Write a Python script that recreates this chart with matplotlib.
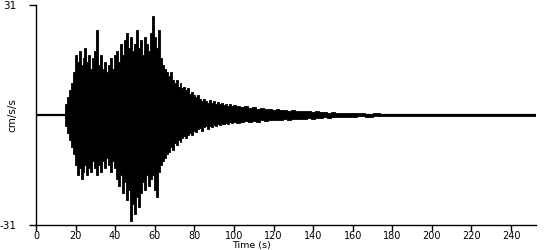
import numpy as np
import matplotlib.pyplot as plt

# envelope of the accelerogram (cm/s/s), peak up / peak down per time step
t_pre = [0, 14]
up_pre = [0, 0]
lo_pre = [0, 0]

# 1 s steps, 15 .. 100 s
t_main = list(range(15, 101))
up_main = [3, 5, 7, 9, 12, 17, 15, 18, 14, 16, 19, 15, 17, 13, 16, 18, 24, 14, 17, 13,
           15, 12, 14, 16, 13, 17, 18, 15, 20, 17, 21, 23, 19, 22, 18, 20, 24, 19, 21, 17,
           22, 20, 18, 23, 28, 22, 19, 24, 16, 14, 13, 12, 11, 12, 10, 9, 10, 8, 9, 7.5,
           8, 7, 7.5, 6, 6.5, 5.5, 5, 5.5, 4.5, 4, 4.5, 4, 3.5, 4.2, 3.5, 4, 3.2, 3.6,
           3, 3.3, 2.8, 3, 2.6, 3.2, 2.5, 2.8]
lo_main = [-3, -5, -7, -9, -11, -14, -17, -15, -18, -16, -14, -17, -15, -16, -13, -15, -17, -14, -16, -13,
           -15, -12, -14, -16, -13, -15, -18, -20, -17, -22, -19, -24, -21, -30, -25, -28, -23, -26, -22, -19,
           -21, -17, -20, -18, -17, -21, -23, -16, -14, -13, -12, -11, -10.5, -9, -10, -8, -8.5, -7, -7.5, -6.5,
           -6, -6.5, -5.5, -5, -5.5, -4.5, -4.8, -4, -3.8, -4.5, -3.5, -3.2, -4, -3, -3.3, -2.8, -3, -2.6,
           -2.8, -2.4, -2.6, -2.2, -2.5, -2.1, -2.3, -2]

# 2 s steps, 102 .. 160 s
t_coda = list(range(102, 161, 2))
up_coda = [2.4, 2.2, 2.6, 2.0, 2.2, 1.8, 2.0, 1.6, 1.8, 1.5, 1.7, 1.4, 1.5, 1.2, 1.4,
           1.1, 1.2, 1.0, 1.1, 0.9, 1.0, 0.8, 0.9, 0.7, 0.8, 0.6, 0.7, 0.6, 0.5, 0.6]
lo_coda = [-2.2, -2.0, -1.8, -2.1, -1.7, -1.9, -1.5, -1.7, -1.4, -1.5, -1.3, -1.4, -1.2, -1.3, -1.1,
           -1.2, -1.0, -1.1, -0.9, -1.0, -0.8, -0.9, -0.7, -0.8, -0.6, -0.7, -0.6, -0.5, -0.6, -0.5]

# 4 s steps, 164 .. 252 s
t_tail = list(range(164, 253, 4))
up_tail = [0.45, 0.35, 0.45, 0.3, 0.35, 0.4, 0.25, 0.3, 0.25, 0.3, 0.2, 0.25,
           0.2, 0.25, 0.2, 0.2, 0.15, 0.2, 0.15, 0.2, 0.15, 0.15, 0.15]
lo_tail = [-0.4, -0.45, -0.35, -0.4, -0.3, -0.35, -0.3, -0.25, -0.3, -0.2, -0.25, -0.2,
           -0.2, -0.2, -0.15, -0.2, -0.15, -0.15, -0.2, -0.15, -0.15, -0.15, -0.15]

t = np.array(t_pre + t_main + t_coda + t_tail, dtype=float)
up = np.array(up_pre + up_main + up_coda + up_tail)
lo = np.array(lo_pre + lo_main + lo_coda + lo_tail)

plt.rcParams['font.family'] = ['DejaVu Sans']
fig = plt.figure(figsize=(5.5, 2.5), dpi=100)
ax = fig.add_axes([36/550, 0.1, 500/550, 0.88])

# trace drawn as its peak envelope, one block per time step
ax.fill_between(t, lo, up, step='mid', color='black', lw=0.6, edgecolor='black')
ax.plot(t, np.zeros_like(t), color='black', lw=1.6)

ax.set_xlim(0, 252.6)
ax.set_ylim(-31, 31)
ax.set_xticks(np.arange(0, 241, 20))
ax.set_yticks([-31, 31])
ax.set_yticklabels(['-31', '31'])
for s in ['top', 'right']:
    ax.spines[s].set_visible(False)
for s in ['left', 'bottom']:
    ax.spines[s].set_linewidth(1.0)
ax.tick_params(axis='x', length=4, width=1, pad=0.5, labelsize=7)
ax.tick_params(axis='y', length=5, width=1, pad=9, labelsize=7.5)

fig.text(251/550, 0.0, 'Time (s)', ha='center', va='bottom', fontsize=6.8)
fig.text(12/550, 0.54, 'cm/s/s', ha='center', va='center', rotation=90, fontsize=7.5)

fig.savefig('out.png', dpi=100)
